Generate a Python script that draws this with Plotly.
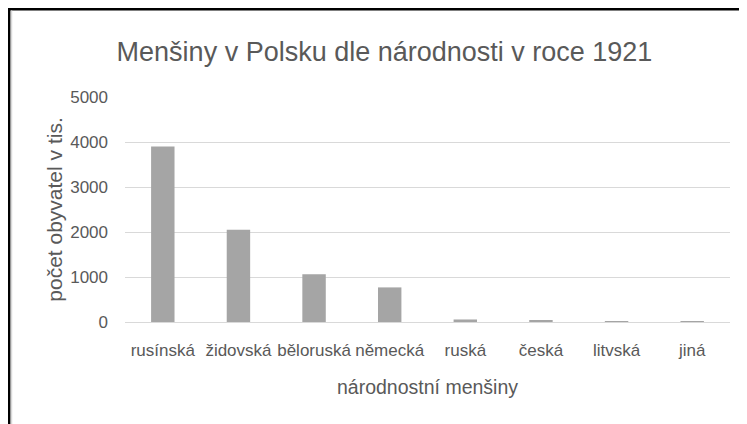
import plotly.graph_objects as go

categories = ["rusínská", "židovská", "běloruská", "německá", "ruská", "česká", "litvská", "jiná"]
values = [3898, 2048, 1060, 769, 56, 31, 10, 8]
y_ticks = [0, 1000, 2000, 3000, 4000, 5000]

TITLE = "Menšiny v Polsku dle národnosti v roce 1921"
X_TITLE = "národnostní menšiny"
Y_TITLE = "počet obyvatel v tis."

W, H = 747, 424
ML, MR, MT, MB = 117, 25, 89, 110
PW, PH = W - ML - MR, H - MT - MB

TEXT = "#595959"
GRID = "#D9D9D9"
BAR = "#A5A5A5"
SANS = "Liberation Sans, Arial, sans-serif"


def px_x(p):
    return (p - ML) / PW


def px_y(p):
    return (H - MB - p) / PH


fig = go.Figure(
    go.Bar(x=categories, y=values, marker=dict(color=BAR, line=dict(width=0)))
)

fig.update_layout(
    width=W,
    height=H,
    margin=dict(l=ML, r=MR, t=MT, b=MB, pad=0),
    paper_bgcolor="white",
    plot_bgcolor="white",
    bargap=0.69,
    showlegend=False,
    title=dict(
        text=TITLE,
        x=376.5 / W,
        xanchor="center",
        y=1 - 44 / H,
        yanchor="middle",
        font=dict(family=SANS, size=27, color=TEXT),
    ),
    xaxis=dict(
        showgrid=False,
        showline=True,
        linecolor=GRID,
        linewidth=1,
        ticks="",
        ticklabelstandoff=13,
        tickfont=dict(family=SANS, size=17, color=TEXT),
        title=dict(text=X_TITLE, standoff=20, font=dict(family=SANS, size=19.5, color=TEXT)),
        automargin=False,
    ),
    yaxis=dict(
        range=[0, 5000],
        tickvals=y_ticks,
        showgrid=True,
        gridcolor=GRID,
        gridwidth=1,
        zeroline=False,
        showline=False,
        ticks="",
        ticklabelstandoff=16,
        tickfont=dict(family=SANS, size=17, color=TEXT),
        title=dict(text=Y_TITLE, standoff=1, font=dict(family=SANS, size=21, color=TEXT)),
        automargin=False,
    ),
    shapes=[
        dict(type="line", xref="paper", yref="paper",
             x0=px_x(0), x1=px_x(W + 10), y0=px_y(1), y1=px_y(1),
             line=dict(color="black", width=3)),
        dict(type="line", xref="paper", yref="paper",
             x0=px_x(1), x1=px_x(1), y0=px_y(0), y1=px_y(H + 10),
             line=dict(color="black", width=3)),
        dict(type="line", xref="paper", yref="paper",
             x0=px_x(3.5), x1=px_x(3.5), y0=px_y(2.5), y1=px_y(H + 10),
             line=dict(color=GRID, width=1.5)),
    ],
)

fig.write_html("out.html")
